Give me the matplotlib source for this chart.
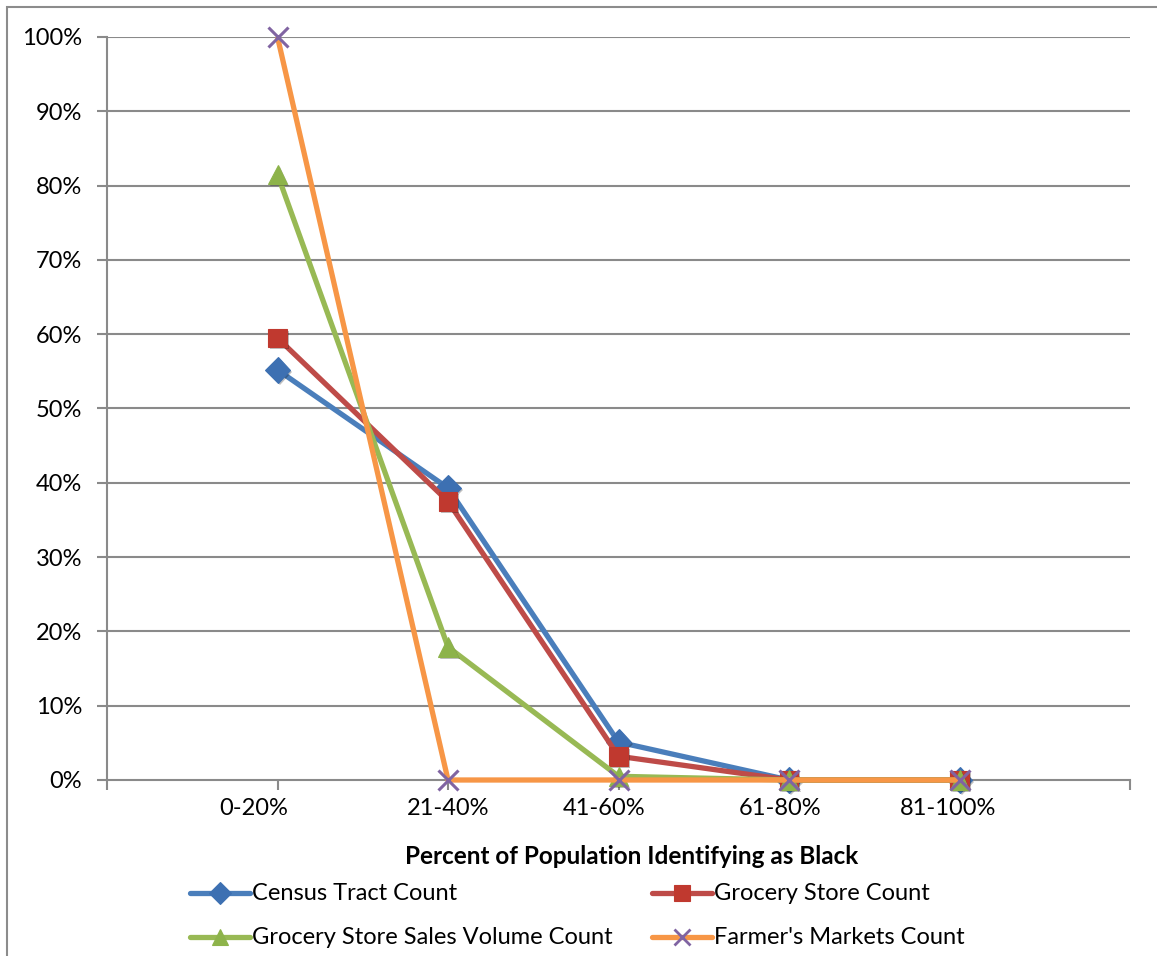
import matplotlib
matplotlib.use("Agg")
import matplotlib.pyplot as plt
import matplotlib.patheffects as pe
from matplotlib.patches import Rectangle
from matplotlib.ticker import FixedLocator, FuncFormatter
from matplotlib.lines import Line2D
from matplotlib.transforms import ScaledTranslation

# Data
categories = ["0-20%", "21-40%", "41-60%", "61-80%", "81-100%"]
census_tract = [55.2, 39.3, 5.1, 0.0, 0.0]
grocery_store = [59.5, 37.5, 3.2, 0.0, 0.0]
sales_volume = [81.5, 17.9, 0.5, 0.0, 0.0]
farmers_markets = [100.0, 0.0, 0.0, 0.0, 0.0]
y_ticks = [0, 10, 20, 30, 40, 50, 60, 70, 80, 90, 100]

# name, values, line colour, marker, marker colour, marker size
series = [
    ("Census Tract Count", census_tract, "#4A7EBB", "D", "#3D70B2", 13),
    ("Grocery Store Count", grocery_store, "#BE4B48", "s", "#C0392F", 13.5),
    ("Grocery Store Sales Volume Count", sales_volume, "#98B954", "^", "#8DB34A", 14),
    ("Farmer's Markets Count", farmers_markets, "#F79646", "x", "#8064A2", 14),
]

plt.rcParams["font.family"] = ["Lato", "DejaVu Sans"]

W, H = 1157, 956
fig = plt.figure(figsize=(W / 100, H / 100), dpi=100)

# chart-area border
fig.patches.append(Rectangle((7 / W, -0.05), 1.2, 1 - 7 / H + 0.05,
                             transform=fig.transFigure, fill=False,
                             edgecolor="#8C8C8C", linewidth=1.5, zorder=0))

ax = fig.add_axes([107 / W, (H - 780) / H, 1023 / W, 743 / H])
ax.set_xlim(0, 6)
ax.set_ylim(0, 100)

grid_color = "#8A8A8A"
for v in y_ticks[1:]:
    ax.axhline(v, color=grid_color, linewidth=1.5, zorder=1)

shadow = [pe.SimplePatchShadow(offset=(1.5, -1.5), shadow_rgbFace="black", alpha=0.25),
          pe.Normal()]

x = list(range(1, len(categories) + 1))
for i, (name, vals, lc, mk, mc, ms) in enumerate(series):
    ax.plot(x, vals, color=lc, linewidth=3.8, solid_capstyle="butt",
            zorder=3 + 2 * i, clip_on=False)
    ax.plot(x, vals, linestyle="none", marker=mk, markersize=ms,
            markerfacecolor=mc, markeredgecolor=mc,
            markeredgewidth=2.2 if mk == "x" else 0.8,
            zorder=4 + 2 * i, clip_on=False,
            path_effects=None if mk == "x" else shadow)

for s in ["top", "right"]:
    ax.spines[s].set_visible(False)
for s in ["left", "bottom"]:
    ax.spines[s].set_color(grid_color)
    ax.spines[s].set_linewidth(1.5)
    ax.spines[s].set_zorder(2)

ax.yaxis.set_major_locator(FixedLocator(y_ticks))
ax.yaxis.set_major_formatter(FuncFormatter(lambda v, p: f"{int(v)}%"))
ax.xaxis.set_major_locator(FixedLocator(range(0, 7)))
ax.xaxis.set_major_formatter(FuncFormatter(
    lambda v, p: categories[int(v) - 1] if 1 <= int(v) <= len(categories) else ""))
ax.tick_params(axis="both", colors=grid_color, width=1.5, length=7,
               labelcolor="black", labelsize=17)
ax.tick_params(axis="y", pad=11)
ax.tick_params(axis="x", pad=6)

# small horizontal nudges of the category labels
label_shift_px = [0, -24, 0, -14, -9, -11, 0]
fig.canvas.draw()
for lab, dx in zip(ax.get_xticklabels(), label_shift_px):
    lab.set_transform(lab.get_transform() +
                      ScaledTranslation(dx / 100, 0, fig.dpi_scale_trans))

fig.text(632 / W, 1 - 857 / H, "Percent of Population Identifying as Black",
         ha="center", va="center", fontsize=17.5, fontweight="bold")

# legend, laid out row by row
legend_pos = [(190, 893), (652, 893), (190, 937), (652, 937)]
for (name, vals, lc, mk, mc, ms), (lx, ly) in zip(series, legend_pos):
    yf = 1 - ly / H
    fig.add_artist(Line2D([lx / W, (lx + 60) / W], [yf, yf],
                          transform=fig.transFigure, color=lc, linewidth=3.8,
                          solid_capstyle="round"))
    fig.add_artist(Line2D([(lx + 30) / W], [yf], transform=fig.transFigure,
                          linestyle="none", marker=mk, markersize=ms * 0.85,
                          markerfacecolor=mc, markeredgecolor=mc,
                          markeredgewidth=2.0 if mk == "x" else 0.8))
    fig.text((lx + 62) / W, yf, name, ha="left", va="center", fontsize=17)

fig.savefig("out.png", dpi=100)
